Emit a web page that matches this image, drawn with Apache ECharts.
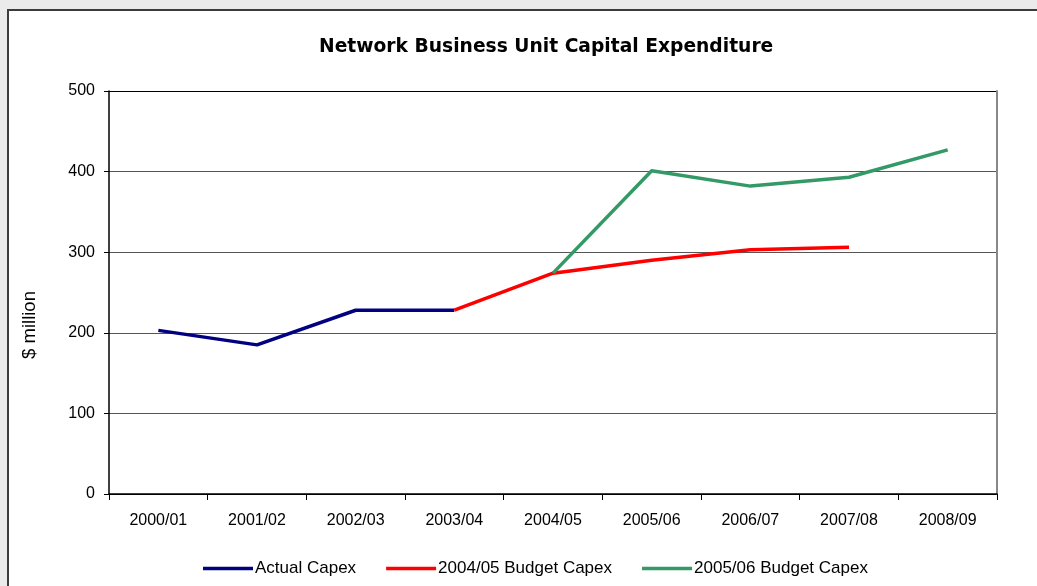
<!DOCTYPE html>
<html>
<head>
<meta charset="utf-8">
<script src="https://cdn.jsdelivr.net/npm/echarts@6/dist/echarts.min.js"></script>
<style>
  html, body { margin: 0; padding: 0; background: #ebebeb; overflow: hidden; }
  #frame { position: absolute; left: 7px; top: 9px; width: 1100px; height: 600px;
           border-left: 2px solid #3c3c3c; border-top: 2px solid #3c3c3c; background: #fff; }
  #main { position: absolute; left: 0; top: 0; width: 1037px; height: 586px; }
</style>
</head>
<body>
<div id="frame"></div>
<div id="main"></div>
<script>
// 数据
var years = ['2000/01', '2001/02', '2002/03', '2003/04', '2004/05', '2005/06', '2006/07', '2007/08', '2008/09'];
var actualCapex = [203, 185, 228, 228, null, null, null, null, null];
var budget0405 = [null, null, null, 228, 274, 290, 303, 306, null];
var budget0506 = [null, null, null, null, 274, 401, 382, 393, 427];
var yTicks = [0, 100, 200, 300, 400, 500];

var chart = echarts.init(document.getElementById('main'));
var font = 'Liberation Sans, Arial, sans-serif';

function lineSeries(name, data, color) {
    return {
        name: name,
        type: 'line',
        data: data,
        symbol: 'none',
        connectNulls: false,
        lineStyle: { color: color, width: 3.5 },
        itemStyle: { color: color }
    };
}

var option = {
    animation: false,
    textStyle: { fontFamily: font },
    title: {
        text: 'Network Business Unit Capital Expenditure',
        left: 314,
        top: 33,
        textStyle: { fontSize: 18.7, fontWeight: 'bold', color: '#000', fontFamily: 'DejaVu Sans' }
    },
    grid: { left: 109, top: 91, right: 40, bottom: 92 },
    legend: {
        bottom: 9,
        left: 203,
        padding: 0,
        icon: 'rect',
        itemWidth: 50,
        itemHeight: 3.5,
        itemGap: 30,
        textStyle: { fontSize: 17, color: '#000', fontFamily: font, padding: [0, 0, 0, -3] },
        data: ['Actual Capex', '2004/05 Budget Capex', '2005/06 Budget Capex']
    },
    xAxis: {
        type: 'category',
        data: years,
        boundaryGap: true,
        axisLine: { lineStyle: { color: '#000', width: 1.5 } },
        axisTick: { show: true, length: 6, lineStyle: { color: '#000' } },
        axisLabel: { fontSize: 16, color: '#000', margin: 19 }
    },
    yAxis: [{
        type: 'value',
        min: yTicks[0],
        max: yTicks[yTicks.length - 1],
        interval: 100,
        axisLine: { show: true, lineStyle: { color: '#000', width: 1.5 } },
        axisTick: { show: true, length: 5, lineStyle: { color: '#000' } },
        axisLabel: { fontSize: 16, color: '#000', margin: 14 },
        splitLine: { show: true, lineStyle: { color: ['#000', '#555', '#555', '#555', '#555', '#000'], width: 1 } }
    }, {
        type: 'value',
        position: 'right',
        min: 0, max: 500,
        axisLine: { show: true, lineStyle: { color: '#888', width: 2 } },
        axisTick: { show: false },
        axisLabel: { show: false },
        splitLine: { show: false }
    }],
    graphic: [{
        type: 'text',
        x: 30,
        y: 325,
        rotation: Math.PI / 2,
        style: { text: '$ million', fontSize: 18.5, fill: '#000', fontFamily: font, align: 'center', verticalAlign: 'middle' }
    }],
    series: [
        lineSeries('Actual Capex', actualCapex, '#000080'),
        lineSeries('2004/05 Budget Capex', budget0405, '#ff0000'),
        lineSeries('2005/06 Budget Capex', budget0506, '#339966')
    ]
};

chart.setOption(option);
</script>
</body>
</html>
